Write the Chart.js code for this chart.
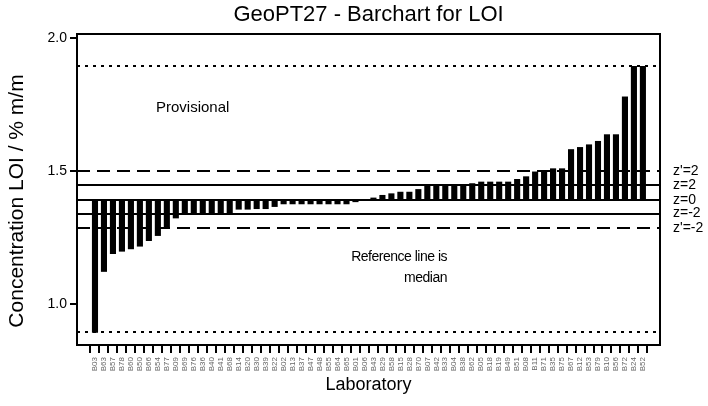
<!DOCTYPE html>
<html><head><meta charset="utf-8">
<script src="https://cdn.jsdelivr.net/npm/chart.js@4.4.0/dist/chart.umd.min.js"></script>
<style>html,body{margin:0;padding:0;background:#fff;}canvas{display:block;}</style>
</head><body>
<canvas id="c" width="708" height="406"></canvas>
<script>
const labs = ['B03','B63','B57','B78','B60','B50','B66','B54','B77','B09','B69','B76','B36','B40','B41','B68','B14','B20','B30','B39','B22','B02','B13','B37','B47','B48','B55','B64','B65','B01','B06','B43','B29','B58','B15','B28','B70','B07','B42','B33','B04','B38','B62','B05','B18','B19','B49','B51','B08','B11','B71','B35','B75','B67','B12','B53','B79','B10','B56','B72','B24','B52'];
const values = [0.892,1.121,1.188,1.197,1.206,1.216,1.237,1.256,1.287,1.322,1.340,1.340,1.340,1.340,1.340,1.340,1.355,1.355,1.357,1.357,1.365,1.375,1.375,1.375,1.375,1.375,1.375,1.375,1.375,1.383,1.388,1.400,1.410,1.416,1.422,1.422,1.432,1.447,1.447,1.447,1.447,1.451,1.454,1.460,1.460,1.460,1.460,1.470,1.480,1.498,1.498,1.510,1.510,1.582,1.590,1.600,1.613,1.638,1.638,1.780,1.895,1.895];
const refValue = 1.392;
const lineValues = [1.895, 1.500, 1.446, 1.392, 1.340, 1.285, 0.893];
const lineStyles = ['dotted','dashed','solid','solid','solid','dashed','dotted'];
const lineLabels = ['', "z'=2", 'z=2', 'z=0', 'z=-2', "z'=-2", ''];
const yTicks = [1.0, 1.5, 2.0];
const yRange = [0.846, 2.015];
const xRange = [-1.479, 62.38];
const yTitle = 'Concentration LOI / % m/m';

Chart.defaults.font.family = '"Liberation Sans", Arial, sans-serif';
Chart.defaults.color = '#000';

const dashes = {dotted: [3, 5], dashed: [13, 7], solid: []};

const overlay = {
  id: 'overlay',
  afterDatasetsDraw(chart) {
    const {ctx, chartArea: a, scales: {y}} = chart;
    ctx.save();
    ctx.strokeStyle = '#000';
    ctx.lineWidth = 2;
    lineValues.forEach((v, i) => {
      const py = Math.round(y.getPixelForValue(v));
      ctx.setLineDash(dashes[lineStyles[i]]);
      ctx.beginPath();
      ctx.moveTo(a.left, py);
      ctx.lineTo(a.right, py);
      ctx.stroke();
    });
    ctx.setLineDash([]);
    ctx.strokeRect(a.left, a.top, a.right - a.left, a.bottom - a.top);
    ctx.fillStyle = '#000';
    ctx.textBaseline = 'middle';
    ctx.font = '14px "Liberation Sans", Arial, sans-serif';
    ctx.textAlign = 'left';
    lineValues.forEach((v, i) => {
      if (lineLabels[i]) ctx.fillText(lineLabels[i], a.right + 13, y.getPixelForValue(v));
    });
    ctx.font = '15px "Liberation Sans", Arial, sans-serif';
    ctx.fillText('Provisional', 156, 108);
    ctx.textAlign = 'right';
    ctx.font = '14px "Liberation Sans", Arial, sans-serif';
    ctx.letterSpacing = '-0.5px';
    ctx.fillText('Reference line is', 447, 257);
    ctx.fillText('median', 447, 278);
    ctx.letterSpacing = '0px';
    // y axis title
    ctx.save();
    ctx.translate(17, 201);
    ctx.rotate(-Math.PI / 2);
    ctx.textAlign = 'center';
    ctx.font = '21px "Liberation Sans", Arial, sans-serif';
    ctx.fillText(yTitle, 0, 0);
    ctx.restore();
    ctx.restore();
  }
};

new Chart(document.getElementById('c'), {
  type: 'bar',
  data: {
    datasets: [{
      data: labs.map((l, i) => ({x: i, y: [refValue, values[i]]})),
      backgroundColor: '#000',
      borderWidth: 0,
      categoryPercentage: 1,
      barPercentage: 0.68
    }]
  },
  options: {
    responsive: false,
    animation: false,
    layout: {padding: {left: 0, right: 48, top: 0, bottom: 0}},
    plugins: {
      legend: {display: false},
      tooltip: {enabled: false},
      title: {
        display: true,
        text: 'GeoPT27 - Barchart for LOI',
        fullSize: false,
        font: {size: 22, weight: 'normal'},
        color: '#000',
        padding: {top: 1.5, bottom: 6.1}
      }
    },
    scales: {
      x: {
        type: 'linear',
        min: xRange[0], max: xRange[1],
        afterBuildTicks: s => { s.ticks = labs.map((l, i) => ({value: i})); },
        afterFit: s => { s.height = 61; },
        border: {display: false},
        grid: {drawOnChartArea: false, drawTicks: true, tickLength: 8, lineWidth: 2, color: '#000'},
        ticks: {
          autoSkip: false, maxRotation: 90, minRotation: 90, padding: 4,
          font: {size: 8}, color: '#666',
          callback: v => labs[v] ?? ''
        },
        title: {display: true, text: 'Laboratory', font: {size: 18}, color: '#000', padding: {top: 0, bottom: 10}}
      },
      y: {
        min: yRange[0], max: yRange[1],
        afterBuildTicks: s => { s.ticks = yTicks.map(v => ({value: v})); },
        afterFit: s => { s.width = 77; },
        border: {display: false},
        grid: {drawOnChartArea: false, drawTicks: true, tickLength: 7, lineWidth: 2, color: '#000'},
        ticks: {font: {size: 14}, color: '#000', padding: 3, callback: v => Number(v).toFixed(1)},
        title: {display: false}
      }
    }
  },
  plugins: [overlay]
});
</script>
</body></html>
